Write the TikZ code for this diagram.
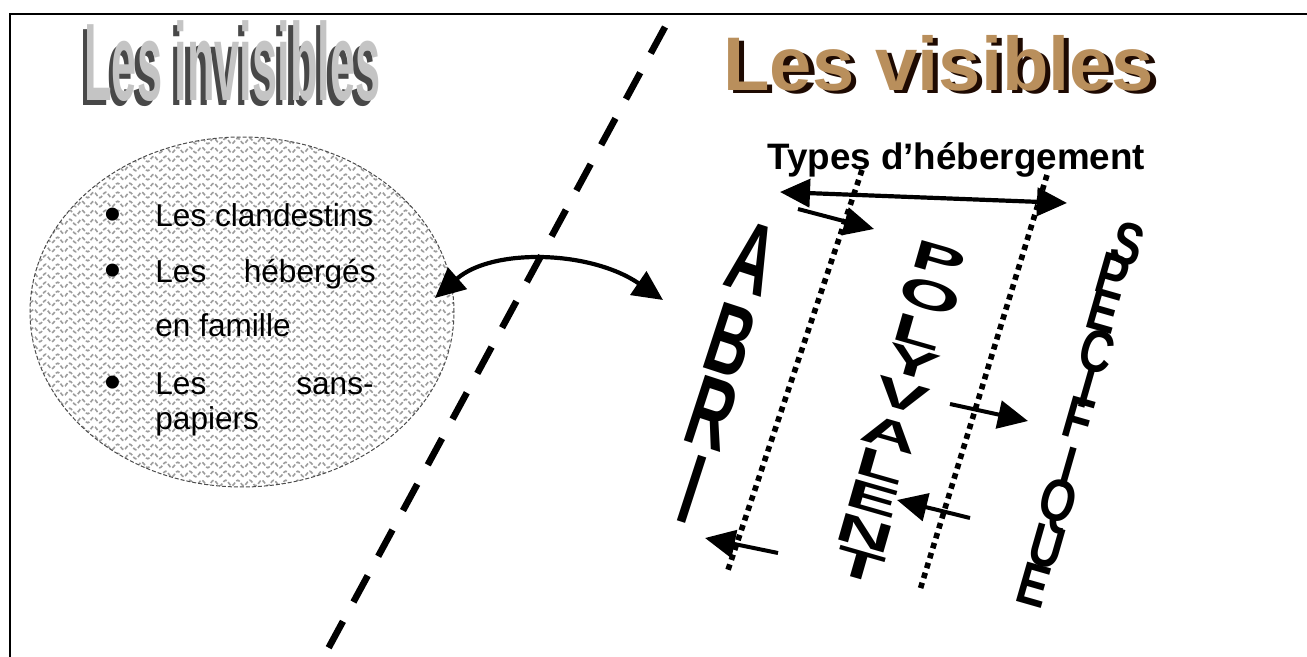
\documentclass[tikz,border=0pt]{standalone}
\usepackage{fontspec}
\usepackage{graphicx}
\setmainfont{Liberation Sans}
\usetikzlibrary{arrows.meta,shapes.geometric,decorations.pathmorphing}
\definecolor{gold}{HTML}{B98F5C}
\definecolor{darkbrown}{HTML}{1E0A02}
\definecolor{invfront}{HTML}{C4C4C4}
\definecolor{invside}{HTML}{484848}
\definecolor{wave}{HTML}{9C9C9C}
\newcommand\abrl[1]{\scalebox{0.6}[1]{#1}}
\newcommand\polyl[1]{\scalebox{1}[0.5]{#1}}
\newcommand\specl[1]{\scalebox{0.85}[1.1]{#1}}
\newcommand\invt{\scalebox{0.43}[1.05]{Les invisibles}}
\newcommand\shl[4]{\rlap{\kern#1\raisebox{#2}{\textcolor{#3}{#4}}}}
\tikzset{
  frame/.style={line width=1.1pt},
  divider/.style={line width=3.3pt, dash pattern=on 15pt off 11pt},
  dotline/.style={line width=2.8pt, dash pattern=on 2.8pt off 2.4pt},
  tri/.tip={Triangle[length=15pt,width=14pt]},
  dblarrow/.style={line width=2.1pt, tri-tri},
  onearrow/.style={line width=2pt, -tri},
  listtext/.style={anchor=base west, inner sep=0, font=\fontsize{15.8}{18}\selectfont},
  bullet/.style={inner sep=0, font=\fontsize{24}{24}\selectfont},
  invtitle/.style={anchor=base west, inner sep=0, font=\fontsize{52.5}{54}\selectfont\bfseries},
  vistitle/.style={anchor=base west, inner sep=0, font=\fontsize{38}{40}\selectfont\bfseries},
  abrletter/.style={inner sep=0, rotate=-18, font=\fontsize{50}{50}\selectfont\bfseries},
  polyletter/.style={inner sep=0, rotate=-16, font=\fontsize{40}{40}\selectfont\bfseries},
  specletter/.style={inner sep=0, rotate=-16, font=\fontsize{27}{27}\selectfont\bfseries},
  wavy/.style={draw=wave, line width=0.8pt, decorate, decoration={snake, segment length=6pt, amplitude=1.4pt}}
}
\begin{document}
\begin{tikzpicture}[x=0.5pt, y=-0.5pt]
\useasboundingbox (0,0) rectangle (1307,657);
% frame
\draw[frame] (10,657) -- (10,14) -- (1307,14);

% title left (3D grey)
\node[invtitle] (invtitle) at (84,101) {%
  \shl{-2.2pt}{-2.2pt}{invside}{\invt}\textcolor{invfront}{\invt}};

% title right (gold)
\node[vistitle] (vistitle) at (723,91) {%
  \shl{2.6pt}{-1.3pt}{darkbrown}{Les visibles}\textcolor{gold}{Les visibles}};

% ellipse with wavy fill
\node[ellipse, draw=black!70, dash pattern=on 2pt off 1pt, line width=0.5pt,
      minimum width=212pt, minimum height=175pt, inner sep=0,
      path picture={
        \foreach \i in {0,...,40}{
          \draw[wavy] ([yshift=-\i*4.5pt-2pt]path picture bounding box.north west)
                   -- ([yshift=-\i*4.5pt-2pt]path picture bounding box.north east);
        }
      }] (cloud) at (242,312) {};

% list text
\node[bullet] (b1) at (113,219) {•};
\node[listtext] (t1) at (155,227) {Les clandestins};
\node[bullet] (b2) at (113,275) {•};
\node[listtext] (t2a) at (155,283) {Les};
\node[listtext, anchor=base east] (t2b) at (376,283) {hébergés};
\node[listtext] (t3) at (155,337) {en famille};
\node[bullet] (b3) at (113,387) {•};
\node[listtext] (t4a) at (155,395) {Les};
\node[listtext, anchor=base east] (t4b) at (374,395) {sans-};
\node[listtext] (t5) at (155,430) {papiers};

% divider
\coordinate (divtop) at (665,27);
\coordinate (divbot) at (322,660);
\draw[divider] (divtop) -- (divbot);

% curved double arrow
\coordinate (cl) at (435,298);
\coordinate (cr) at (663,300);
\draw[dblarrow] (cl) .. controls (492,248) and (590,250) .. (cr);

% heading
\node[anchor=base west, inner sep=0, font=\fontsize{18.4}{20}\selectfont\bfseries] (types) at (767,170) {Types d’hébergement};

% dotted lines
\coordinate (d1a) at (862,170);
\coordinate (d1b) at (728,570);
\coordinate (d2a) at (1047,175);
\coordinate (d2b) at (920,590);
\draw[dotline] (d1a) -- (d1b);
\draw[dotline] (d2a) -- (d2b);

% horizontal double arrow
\coordinate (hl) at (780,192);
\coordinate (hr) at (1067,203);
\draw[dblarrow] (hl) -- (hr);

% short arrows
\coordinate (s1a) at (798,209); \coordinate (s1b) at (874,229);
\coordinate (s2a) at (950,404); \coordinate (s2b) at (1028,421);
\coordinate (s3a) at (970,518); \coordinate (s3b) at (897,500);
\coordinate (s4a) at (778,553); \coordinate (s4b) at (705,538);
\draw[onearrow] (s1a) -- (s1b);
\draw[onearrow] (s2a) -- (s2b);
\draw[onearrow] (s3a) -- (s3b);
\draw[onearrow] (s4a) -- (s4b);

% ABRI
\node[abrletter] (abA) at (753,258) {\abrl{A}};
\node[abrletter] (abB) at (731,340) {\abrl{B}};
\node[abrletter] (abR) at (712,413) {\abrl{R}};
\node[abrletter] (abI) at (692,489) {\abrl{I}};

% POLYVALENT
\node[polyletter] (pP) at (939,260) {\polyl{P}};
\node[polyletter] (pO) at (930,296) {\polyl{O}};
\node[polyletter] (pL) at (918,332) {\polyl{L}};
\node[polyletter] (pY) at (913,363) {\polyl{Y}};
\node[polyletter] (pV) at (902,396) {\polyl{V}};
\node[polyletter] (pA) at (890,434) {\polyl{A}};
\node[polyletter] (pL2) at (881,466) {\polyl{L}};
\node[polyletter] (pE) at (873,499) {\polyl{E}};
\node[polyletter] (pN) at (865,533) {\polyl{N}};
\node[polyletter] (pT) at (860,565) {\polyl{T}};

% SPECIFIQUE
\node[specletter] (sS) at (1128,244) {\specl{S}};
\node[specletter] (sP) at (1113,275) {\specl{P}};
\node[specletter] (sE) at (1104,311) {\specl{E}};
\node[specletter] (sC) at (1097,351) {\specl{C}};
\node[specletter] (sI) at (1087,388) {\specl{I}};
\node[specletter] (sF) at (1079,419) {\specl{F}};
\node[specletter] (sI2) at (1068,468) {\specl{I}};
\node[specletter] (sQ) at (1057,506) {\specl{Q}};
\node[specletter] (sU) at (1047,547) {\specl{U}};
\node[specletter] (sE2) at (1034,585) {\specl{E}};
\end{tikzpicture}
\end{document}
